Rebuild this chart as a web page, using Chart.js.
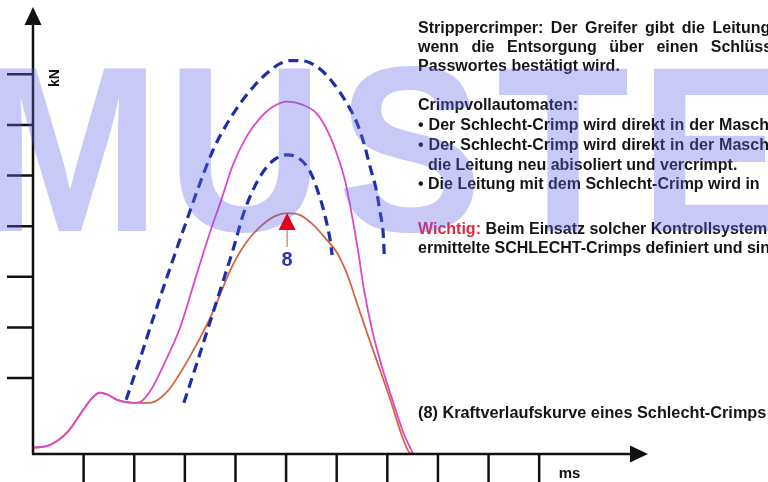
<!DOCTYPE html>
<html>
<head>
<meta charset="utf-8">
<script src="https://cdn.jsdelivr.net/npm/chart.js@4.4.0/dist/chart.umd.min.js"></script>
<style>
  html, body { margin: 0; padding: 0; background: #fff; }
  #wrap { width: 768px; height: 482px; }
</style>
</head>
<body>
<div id="wrap"><canvas id="crimpChart" width="768" height="482"></canvas></div>
<script>
// Kraftverlauf, x in ms-Teilungen, y in kN-Teilungen
const badX  = [0, 0.34, 0.67, 0.99, 1.17, 1.32, 1.48, 1.66, 1.98, 2.31, 2.65, 3.04, 3.50, 3.95, 4.19, 4.49, 4.78, 5.02, 5.28, 5.51, 5.77, 6.01, 6.21, 6.40, 6.60, 6.80, 7.06, 7.29, 7.45, 7.65, 9.62];
const badY  = [0.12, 0.18, 0.42, 0.87, 1.11, 1.21, 1.17, 1.07, 1.01, 1.01, 1.23, 1.82, 2.69, 3.74, 4.15, 4.49, 4.70, 4.76, 4.72, 4.55, 4.27, 3.97, 3.54, 2.98, 2.39, 1.82, 1.07, 0.36, 0.02, 0, 0];

const goodX = [0, 0.34, 0.67, 0.99, 1.17, 1.32, 1.48, 1.66, 1.98, 2.12, 2.35, 2.61, 2.91, 3.20, 3.50, 3.70, 3.95, 4.23, 4.49, 4.74, 5.02, 5.32, 5.61, 5.83, 6.01, 6.17, 6.30, 6.42, 6.54, 6.70, 6.90, 7.10, 7.31, 7.51];
const goodY = [0.12, 0.18, 0.42, 0.87, 1.11, 1.21, 1.17, 1.07, 1.01, 1.03, 1.30, 1.82, 2.51, 3.44, 4.39, 4.96, 5.71, 6.29, 6.64, 6.86, 6.96, 6.90, 6.72, 6.36, 5.91, 5.38, 4.72, 4.03, 3.24, 2.45, 1.70, 1.07, 0.44, 0];

const upperX = [1.84, 2.12, 2.41, 2.71, 3.00, 3.28, 3.56, 3.83, 4.09, 4.37, 4.63, 4.88, 5.08, 5.28, 5.47, 5.71, 5.93, 6.17, 6.40, 6.54, 6.66, 6.78, 6.86, 6.92, 6.94];
const upperY = [1.07, 1.90, 2.79, 3.68, 4.51, 5.30, 6.01, 6.52, 6.92, 7.27, 7.53, 7.71, 7.77, 7.77, 7.73, 7.57, 7.33, 6.98, 6.54, 6.13, 5.67, 5.22, 4.76, 4.33, 3.91];

const lowerX = [2.98, 3.22, 3.46, 3.70, 3.95, 4.15, 4.33, 4.53, 4.76, 5.02, 5.24, 5.42, 5.53, 5.63, 5.73, 5.81, 5.87, 5.91];
const lowerY = [1.01, 1.74, 2.49, 3.24, 4.03, 4.72, 5.18, 5.55, 5.81, 5.91, 5.85, 5.67, 5.46, 5.18, 4.86, 4.53, 4.23, 3.93];

const xTicks = [1, 2, 3, 4, 5, 6, 7, 8, 9, 10];
const yTicks = [1.5, 2.5, 3.5, 4.5, 5.5, 6.5, 7.5];
const xMax = 12.15;
const yMax = 8.83;

const FONT = '"Liberation Sans", Arial, sans-serif';

// Textblock rechts (gap = Wortabstand in px, null = normal)
const textLines = [
  { y: 33,  x: 418, gap: 7.5,  size: 16,   parts: [['Strippercrimper: Der Greifer gibt die Leitung erst frei,', '#151515']] },
  { y: 52,  x: 418, gap: 12.5, size: 16,   parts: [['wenn die Entsorgung über einen Schlüsselschalter', '#151515']] },
  { y: 71,  x: 418, gap: null, size: 16,   parts: [['Passwortes bestätigt wird.', '#151515']] },
  { y: 110, x: 418, gap: null, size: 16,   parts: [['Crimpvollautomaten:', '#151515']] },
  { y: 130, x: 418, gap: 5,    size: 16,   parts: [['• Der Schlecht-Crimp wird direkt in der Maschine', '#151515']] },
  { y: 150, x: 418, gap: 5,    size: 16,   parts: [['• Der Schlecht-Crimp wird direkt in der Maschine', '#151515']] },
  { y: 170, x: 428, gap: null, size: 16,   parts: [['die Leitung neu abisoliert und vercrimpt.', '#151515']] },
  { y: 189, x: 418, gap: null, size: 16,   parts: [['• Die Leitung mit dem Schlecht-Crimp wird in', '#151515']] },
  { y: 234, x: 418, gap: null, size: 16,   parts: [['Wichtig:', '#e2283c'], [' Beim Einsatz solcher Kontrollsysteme', '#151515']] },
  { y: 253, x: 418, gap: null, size: 16,   parts: [['ermittelte SCHLECHT-Crimps definiert und sind', '#151515']] },
  { y: 418, x: 418, gap: null, size: 16.3, parts: [['(8) Kraftverlaufskurve eines Schlecht-Crimps', '#151515']] }
];

const watermark = ['M', 'U', 'S', 'T', 'E', 'R'];
const watermarkCenters = [70, 245, 410, 563, 712, 870];

const pts = (xs, ys) => xs.map((x, i) => ({ x: x, y: ys[i] }));

function drawWords(ctx, text, x, y, gap) {
    if (gap === null) {
        ctx.fillText(text, x, y);
        return x + ctx.measureText(text).width;
    }
    const words = text.split(' ');
    let cx = x;
    words.forEach((w, i) => {
        if (w === '') { cx += gap; return; }
        ctx.fillText(w, cx, y);
        cx += ctx.measureText(w).width;
        if (i < words.length - 1) cx += gap;
    });
    return cx;
}

const decor = {
    id: 'decor',
    afterDatasetsDraw(chart) {
        const { ctx, scales: { x, y } } = chart;
        const x0 = x.getPixelForValue(0);
        const y0 = y.getPixelForValue(0);
        const xEnd = x.getPixelForValue(xMax);
        const yEnd = y.getPixelForValue(yMax);

        ctx.save();
        ctx.strokeStyle = '#111';
        ctx.fillStyle = '#111';
        ctx.lineWidth = 2.5;

        // Achsen
        ctx.beginPath();
        ctx.moveTo(x0, y0);
        ctx.lineTo(x0, yEnd + 16);
        ctx.moveTo(x0 - 1, y0);
        ctx.lineTo(xEnd - 16, y0);
        ctx.stroke();

        // Pfeilspitzen
        ctx.beginPath();
        ctx.moveTo(x0, yEnd);
        ctx.lineTo(x0 - 8.5, yEnd + 18);
        ctx.lineTo(x0 + 8.5, yEnd + 18);
        ctx.closePath();
        ctx.fill();
        ctx.beginPath();
        ctx.moveTo(xEnd, y0);
        ctx.lineTo(xEnd - 18, y0 - 8.5);
        ctx.lineTo(xEnd - 18, y0 + 8.5);
        ctx.closePath();
        ctx.fill();

        // Teilstriche
        ctx.beginPath();
        yTicks.forEach((v) => {
            const py = y.getPixelForValue(v);
            ctx.moveTo(x0 - 26, py);
            ctx.lineTo(x0, py);
        });
        xTicks.forEach((v) => {
            const px = x.getPixelForValue(v);
            ctx.moveTo(px, y0);
            ctx.lineTo(px, y0 + 30);
        });
        ctx.stroke();

        // Einheiten
        ctx.font = 'bold 14px ' + FONT;
        ctx.textAlign = 'center';
        ctx.textBaseline = 'middle';
        ctx.save();
        ctx.translate(x0 + 22, 78);
        ctx.rotate(-Math.PI / 2);
        ctx.fillText('kN', 0, 0);
        ctx.restore();
        ctx.font = 'bold 15px ' + FONT;
        ctx.fillText('ms', x.getPixelForValue(10.6), y0 + 20);

        // Text rechts
        ctx.textAlign = 'left';
        ctx.textBaseline = 'alphabetic';
        textLines.forEach((line) => {
            ctx.font = 'bold ' + line.size + 'px ' + FONT;
            let cx = line.x;
            line.parts.forEach(([t, c]) => {
                ctx.fillStyle = c;
                cx = drawWords(ctx, t, cx, line.y, line.gap);
            });
        });

        // Wasserzeichen MUSTER
        ctx.font = 'bold 236px ' + FONT;
        ctx.textAlign = 'center';
        ctx.fillStyle = 'rgba(100, 100, 235, 0.35)';
        watermark.forEach((ch, i) => {
            ctx.save();
            ctx.translate(watermarkCenters[i], 231);
            ctx.scale(0.92, 1);
            ctx.fillText(ch, 0, 0);
            ctx.restore();
        });

        // Markierung (8) am Maximum der Schlecht-Kurve
        let iMax = 0;
        badY.forEach((v, i) => { if (v > badY[iMax]) iMax = i; });
        const mx = x.getPixelForValue(badX[iMax]);
        const my = y.getPixelForValue(badY[iMax]);
        ctx.fillStyle = '#e3001b';
        ctx.beginPath();
        ctx.moveTo(mx, my);
        ctx.lineTo(mx - 8.5, my + 17);
        ctx.lineTo(mx + 8.5, my + 17);
        ctx.closePath();
        ctx.fill();
        ctx.strokeStyle = '#d05050';
        ctx.lineWidth = 1;
        ctx.beginPath();
        ctx.moveTo(mx, my + 17);
        ctx.lineTo(mx, my + 34);
        ctx.stroke();
        ctx.fillStyle = '#2a36b4';
        ctx.font = 'bold 20px ' + FONT;
        ctx.textBaseline = 'middle';
        ctx.fillText('8', mx, my + 47);
        ctx.restore();
    }
};

const ctx = document.getElementById('crimpChart').getContext('2d');
new Chart(ctx, {
    type: 'scatter',
    data: {
        datasets: [
            {
                label: 'obere Grenze',
                data: pts(upperX, upperY),
                showLine: true,
                borderColor: '#1c2fa8',
                borderWidth: 3.2,
                borderDash: [10, 6],
                pointRadius: 0,
                cubicInterpolationMode: 'monotone'
            },
            {
                label: 'untere Grenze',
                data: pts(lowerX, lowerY),
                showLine: true,
                borderColor: '#1c2fa8',
                borderWidth: 3.2,
                borderDash: [10, 6],
                pointRadius: 0,
                cubicInterpolationMode: 'monotone'
            },
            {
                label: 'Gut-Crimp',
                data: pts(goodX, goodY),
                showLine: true,
                borderColor: 'rgb(218, 72, 205)',
                borderWidth: 1.8,
                pointRadius: 0,
                cubicInterpolationMode: 'monotone'
            },
            {
                label: 'Schlecht-Crimp',
                data: pts(badX, badY),
                showLine: true,
                borderColor: 'rgb(212, 100, 62)',
                borderWidth: 1.8,
                pointRadius: 0,
                cubicInterpolationMode: 'monotone'
            }
        ]
    },
    options: {
        responsive: false,
        animation: false,
        layout: { padding: { left: 33, right: 120, top: 7, bottom: 28 } },
        scales: {
            x: { type: 'linear', min: 0, max: xMax, display: false },
            y: { min: 0, max: yMax, display: false }
        },
        plugins: {
            legend: { display: false },
            tooltip: { enabled: false }
        }
    },
    plugins: [decor]
});
</script>
</body>
</html>
